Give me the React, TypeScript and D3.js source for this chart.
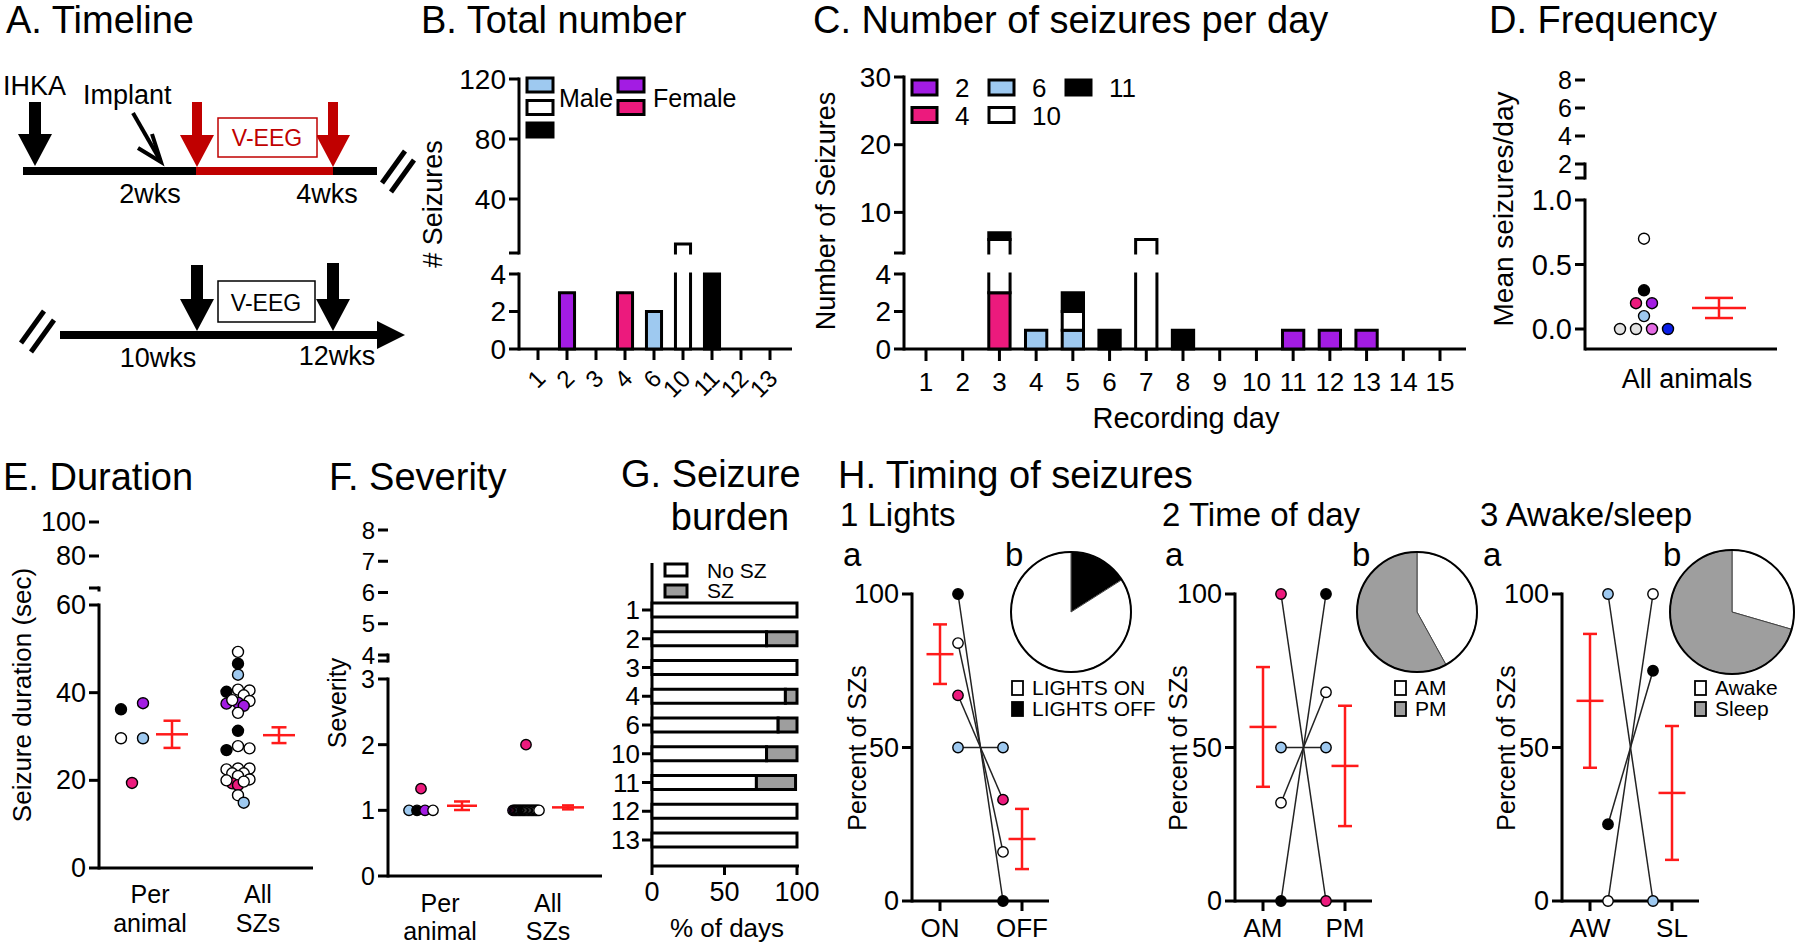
import * as d3 from "d3";

const FONT = "'Liberation Sans', Arial, Helvetica, sans-serif";
const PURPLE = "#a31ce3";
const PINK = "#ec1a7d";
const LBLUE = "#9ec9f0";
const ORCHID = "#e46ae4";
const BLUE = "#0a1ee8";
const LGRAY = "#e2e2e2";
const RED = "#ff1a1a";
const DKRED = "#c00000";
const SZGRAY = "#9e9e9e";
const W = "#ffffff";
const K = "#000000";
const TITLE = 38;

// ---------- B. total number per animal
const animalIds = ["1", "2", "3", "4", "6", "10", "11", "12", "13"];
const totalSeizures = [0, 3, 0, 3, 2, 10, 4, 0, 0];
const animalFill = [W, PURPLE, W, PINK, LBLUE, W, K, W, W];

// ---------- C. seizures per recording day, one list per animal
const recordingDays = ["1", "2", "3", "4", "5", "6", "7", "8", "9", "10", "11", "12", "13", "14", "15"];
const dayAnimal4 = [0, 0, 3, 0, 0, 0, 0, 0, 0, 0, 0, 0, 0, 0, 0];
const dayAnimal6 = [0, 0, 0, 1, 1, 0, 0, 0, 0, 0, 0, 0, 0, 0, 0];
const dayAnimal10 = [0, 0, 3, 0, 1, 0, 6, 0, 0, 0, 0, 0, 0, 0, 0];
const dayAnimal11 = [0, 0, 1, 0, 1, 1, 0, 1, 0, 0, 0, 0, 0, 0, 0];
const dayAnimal2 = [0, 0, 0, 0, 0, 0, 0, 0, 0, 0, 1, 1, 1, 0, 0];

// ---------- D. frequency
const freqValues = [0.7, 0.3, 0.2, 0.2, 0.1, 0, 0, 0, 0];
const freqColors = [W, K, PINK, PURPLE, LBLUE, LGRAY, LGRAY, ORCHID, BLUE];
const freqMean = 0.163;
const freqSem = 0.078;

// ---------- E. duration
const durPerAnimal = [36.2, 29.6, 19.4, 29.6, 37.6];
const durPerAnimalColors = [K, W, PINK, LBLUE, PURPLE];
const durAll = [49.3, 46.6, 44.1, 40.2, 40.7, 40.5, 39.4, 38.1, 37.7, 37.5, 37.0, 38.3, 35.4, 31.3, 26.9,
  27.8, 27.3, 22.7, 22.5, 22.7, 21.6, 21.6, 21.0, 19.3, 18.9, 20.0, 20.2, 19.7, 16.6, 14.9];
const durAllColors = [W, K, LBLUE, K, W, W, W, W, PURPLE, PURPLE, PURPLE, W, W, K, K,
  W, W, W, W, W, W, W, W, PINK, PINK, W, W, W, W, LBLUE];
const durStats = { perMean: 30.5, perSem: 3.1, allMean: 30.3, allSem: 1.8 };

// ---------- F. severity
const sevPerAnimal = [1, 1, 1, 1, 1.33];
const sevPerAnimalColors = [LBLUE, K, PURPLE, W, PINK];
const sevAll = [1, 1, 1, 1, 1, 1, 1, 1, 1, 1, 1, 1, 1, 1, 1, 1, 1, 1, 1, 1, 1, 2];
const sevAllColors = [PURPLE, PURPLE, PURPLE, PINK, PINK, LBLUE, LBLUE, K, K, K, K,
  W, W, W, W, W, W, W, W, W, W, PINK];
const sevStats = { perMean: 1.07, perSem: 0.065, allMean: 1.045, allSem: 0.03 };

// ---------- G. seizure burden (% of days)
const burdenNoSz = [100, 79, 100, 92, 87, 79, 72, 100, 100];
const burdenSz = [0, 21, 0, 8, 13, 21, 27, 0, 0];

// ---------- H. timing
const lightsOn = [100, 84, 67, 50];
const lightsOff = [0, 16, 33, 50];
const lightsColors = [K, W, PINK, LBLUE];
const lightsMean = [80.4, 20.2];
const lightsSem = [9.7, 9.8];
const lightsPie = [16, 84];

const amPct = [100, 0, 32, 50];
const pmPct = [0, 100, 68, 50];
const ampmColors = [PINK, K, W, LBLUE];
const ampmMean = [56.7, 44];
const ampmSem = [19.5, 19.6];
const ampmPie = [42, 58];

const awakePct = [100, 0, 25];
const sleepPct = [0, 100, 75];
const wakeColors = [LBLUE, W, K];
const wakeMean = [65.2, 35.2];
const wakeSem = [21.8, 21.8];
const wakePie = [29.5, 70.5];

type Lin = d3.ScaleLinear<number, number>;

// ---------------- helpers
function yAxisSeg(key: string, x: number, s: Lin, ticks: number[], fs: number,
  opt: { from?: number; to?: number; brk?: number; fmt?: (v: number) => string } = {}) {
  const [r0, r1] = s.range();
  const ya = opt.from ?? r0;
  const yb = opt.to ?? r1;
  return (
    <g key={key}>
      <line x1={x} x2={x} y1={ya} y2={yb} stroke={K} strokeWidth={3} strokeLinecap="square" />
      {ticks.map((t) => (
        <g key={t}>
          <line x1={x - 10} x2={x} y1={s(t)} y2={s(t)} stroke={K} strokeWidth={3} />
          <text x={x - 13} y={s(t)} textAnchor="end" dominantBaseline="central" fontSize={fs}>
            {opt.fmt ? opt.fmt(t) : String(t)}
          </text>
        </g>
      ))}
      {opt.brk !== undefined && (
        <line x1={x - 10} x2={x} y1={opt.brk} y2={opt.brk} stroke={K} strokeWidth={3} />
      )}
    </g>
  );
}

// vertical bar split across axis segments
function brokenBar(key: string, cx: number, w: number, v0: number, v1: number, fill: string, segs: Lin[]) {
  return (
    <g key={key}>
      {segs.map((s, i) => {
        const [lo, hi] = s.domain();
        const a = Math.max(v0, lo);
        const b = Math.min(v1, hi);
        if (b <= a) return null;
        const yb = s(a);
        const yt = s(b);
        const x0 = cx - w / 2;
        const x1 = cx + w / 2;
        let d = `M${x0},${yb}L${x0},${yt}M${x1},${yb}L${x1},${yt}`;
        if (v1 <= hi) d += `M${x0},${yt}L${x1},${yt}`;
        if (v0 >= lo) d += `M${x0},${yb}L${x1},${yb}`;
        return (
          <g key={i}>
            <rect x={x0} y={yt} width={w} height={yb - yt} fill={fill} />
            <path d={d} stroke={K} strokeWidth={3} fill="none" strokeLinecap="square" />
          </g>
        );
      })}
    </g>
  );
}

function errBar(key: string, cx: number, mean: number, sem: number, s: Lin, half: number, cap: number) {
  return (
    <g key={key} stroke={RED} strokeWidth={2.5}>
      <line x1={cx - half} x2={cx + half} y1={s(mean)} y2={s(mean)} />
      <line x1={cx} x2={cx} y1={s(mean - sem)} y2={s(mean + sem)} />
      <line x1={cx - cap} x2={cx + cap} y1={s(mean - sem)} y2={s(mean - sem)} />
      <line x1={cx - cap} x2={cx + cap} y1={s(mean + sem)} y2={s(mean + sem)} />
    </g>
  );
}

// points with (nearly) equal values placed in centred rows
function rowLayout(values: number[], ys: number[], cx: number, spacing: number, tol: number) {
  const order = d3.range(values.length).sort((a, b) => values[b] - values[a] || a - b);
  const xs: number[] = new Array(values.length);
  let row: number[] = [];
  const flush = () => {
    const r = [...row].sort((a, b) => a - b);
    r.forEach((idx, j) => (xs[idx] = cx + (j - (r.length - 1) / 2) * spacing));
    row = [];
  };
  for (const i of order) {
    if (row.length && Math.abs(ys[i] - ys[row[0]]) > tol) flush();
    row.push(i);
  }
  if (row.length) flush();
  return xs;
}

// compact beeswarm limited to a few columns
function swarm(ys: number[], values: number[], cx: number, minDist: number, step: number, maxK: number) {
  const order = d3.range(values.length).sort((a, b) => values[b] - values[a]);
  const placed: { x: number; y: number }[] = [];
  const xs: number[] = new Array(values.length);
  const offs = [0];
  for (let k = 1; k <= maxK; k++) offs.push(k * step, -k * step);
  for (const i of order) {
    const y = ys[i];
    let best = cx;
    let bestD = -1;
    for (const o of offs) {
      const x = cx + o;
      const dmin = placed.length ? d3.min(placed, (p) => Math.hypot(p.x - x, p.y - y)) as number : Infinity;
      if (dmin >= minDist) { best = x; bestD = Infinity; break; }
      if (dmin > bestD) { bestD = dmin; best = x; }
    }
    xs[i] = best;
    placed.push({ x: best, y });
  }
  return xs;
}

function dots(key: string, xs: number[], ys: number[], colors: string[], r: number) {
  return (
    <g key={key}>
      {xs.map((x, i) => (
        <circle key={i} cx={x} cy={ys[i]} r={r} fill={colors[i]} stroke={K} strokeWidth={1.4} />
      ))}
    </g>
  );
}

function BlockArrow({ x, y0, y1, fill, shaft = 12, head = 34, headH = 32 }:
  { x: number; y0: number; y1: number; fill: string; shaft?: number; head?: number; headH?: number }) {
  const pts = [
    [x - shaft / 2, y0], [x + shaft / 2, y0], [x + shaft / 2, y1 - headH], [x + head / 2, y1 - headH],
    [x, y1], [x - head / 2, y1 - headH], [x - shaft / 2, y1 - headH],
  ];
  return <polygon points={pts.map((p) => p.join(",")).join(" ")} fill={fill} />;
}

// ---------------- panels
function PanelA() {
  return (
    <g>
      <text x={6} y={33} fontSize={TITLE}>A. Timeline</text>
      <text x={3} y={95} fontSize={27}>IHKA</text>
      <text x={83} y={104} fontSize={27}>Implant</text>
      <rect x={23} y={167} width={173} height={8} fill={K} />
      <rect x={196} y={167} width={137} height={8} fill={DKRED} />
      <rect x={333} y={167} width={44} height={8} fill={K} />
      <BlockArrow x={35} y0={102} y1={166} fill={K} />
      <BlockArrow x={197} y0={102} y1={167} fill={DKRED} shaft={10} />
      <BlockArrow x={333} y0={102} y1={167} fill={DKRED} shaft={10} />
      <line x1={133} y1={113} x2={160} y2={160} stroke={K} strokeWidth={4} />
      <polyline points="152,134 161,162 138,148" fill="none" stroke={K} strokeWidth={4} />
      <rect x={218} y={118} width={99} height={39} fill={W} stroke={DKRED} strokeWidth={1.5} />
      <text x={267} y={146} textAnchor="middle" fontSize={23} fill={DKRED}>V-EEG</text>
      <text x={150} y={203} textAnchor="middle" fontSize={27}>2wks</text>
      <text x={327} y={203} textAnchor="middle" fontSize={27}>4wks</text>
      <line x1={382} y1={183} x2={405} y2={151} stroke={K} strokeWidth={5} />
      <line x1={391} y1={192} x2={414} y2={160} stroke={K} strokeWidth={5} />

      <line x1={21} y1={343} x2={44} y2={311} stroke={K} strokeWidth={5} />
      <line x1={31} y1={352} x2={54} y2={320} stroke={K} strokeWidth={5} />
      <rect x={60} y={331} width={320} height={8} fill={K} />
      <polygon points="377,321 405,335 377,349" fill={K} />
      <BlockArrow x={197} y0={265} y1={331} fill={K} />
      <BlockArrow x={333} y0={263} y1={331} fill={K} />
      <rect x={218} y={281} width={97} height={41} fill={W} stroke={K} strokeWidth={1.5} />
      <text x={266} y={311} textAnchor="middle" fontSize={23}>V-EEG</text>
      <text x={158} y={367} textAnchor="middle" fontSize={27}>10wks</text>
      <text x={337} y={365} textAnchor="middle" fontSize={27}>12wks</text>
    </g>
  );
}

function PanelB() {
  const x = d3.scalePoint<string>().domain(animalIds).range([538, 770]);
  const yLow = d3.scaleLinear().domain([0, 4]).range([349, 274]);
  const yHigh = d3.scaleLinear().domain([4, 120]).range([253, 79]);
  const bw = x.step() * 0.52;
  const legMale = [LBLUE, W, K];
  const legFemale = [PURPLE, PINK];
  return (
    <g>
      <text x={421} y={33} fontSize={TITLE}>B. Total number</text>
      <text transform="translate(433,204) rotate(-90)" textAnchor="middle" dominantBaseline="central" fontSize={27}># Seizures</text>
      {yAxisSeg("hi", 519, yHigh, [40, 80, 120], 28, { brk: 253 })}
      {yAxisSeg("lo", 519, yLow, [0, 2, 4], 28)}
      <line x1={519} x2={792} y1={349} y2={349} stroke={K} strokeWidth={3} />
      {animalIds.map((a) => (
        <g key={a}>
          <line x1={x(a)} x2={x(a)} y1={349} y2={360} stroke={K} strokeWidth={3} />
          <text transform={`translate(${(x(a) as number) + 9},380) rotate(-45)`} textAnchor="end" fontSize={24}>{a}</text>
        </g>
      ))}
      {animalIds.map((a, i) =>
        totalSeizures[i] > 0 ? brokenBar(a, x(a) as number, bw, 0, totalSeizures[i], animalFill[i], [yLow, yHigh]) : null
      )}
      {legMale.map((c, i) => (
        <rect key={"m" + i} x={527} y={78 + i * 22.5} width={26} height={14} fill={c} stroke={K} strokeWidth={3} />
      ))}
      {legFemale.map((c, i) => (
        <rect key={"f" + i} x={618} y={78 + i * 22.5} width={26} height={14} fill={c} stroke={K} strokeWidth={3} />
      ))}
      <text x={559} y={107} fontSize={25}>Male</text>
      <text x={653} y={107} fontSize={25}>Female</text>
    </g>
  );
}

function PanelC() {
  const x = d3.scalePoint<string>().domain(recordingDays).range([926, 1440]);
  const yLow = d3.scaleLinear().domain([0, 4]).range([349, 274]);
  const yHigh = d3.scaleLinear().domain([4, 30]).range([253, 77]);
  const rows = recordingDays.map((d, i) => ({
    day: d, a4: dayAnimal4[i], a6: dayAnimal6[i], a10: dayAnimal10[i], a11: dayAnimal11[i], a2: dayAnimal2[i],
  }));
  const keys = ["a4", "a6", "a10", "a11", "a2"];
  const fills: Record<string, string> = { a4: PINK, a6: LBLUE, a10: W, a11: K, a2: PURPLE };
  const stack = d3.stack<any>().keys(keys)(rows);
  const bw = x.step() * 0.58;
  const legend = [
    { c: PURPLE, t: "2", col: 0, row: 0 }, { c: PINK, t: "4", col: 0, row: 1 },
    { c: LBLUE, t: "6", col: 1, row: 0 }, { c: W, t: "10", col: 1, row: 1 },
    { c: K, t: "11", col: 2, row: 0 },
  ];
  return (
    <g>
      <text x={813} y={33} fontSize={TITLE}>C. Number of seizures per day</text>
      <text transform="translate(826,211) rotate(-90)" textAnchor="middle" dominantBaseline="central" fontSize={27}>Number of Seizures</text>
      {yAxisSeg("hi", 904, yHigh, [10, 20, 30], 28, { brk: 253 })}
      {yAxisSeg("lo", 904, yLow, [0, 2, 4], 28)}
      <line x1={904} x2={1466} y1={349} y2={349} stroke={K} strokeWidth={3} />
      {recordingDays.map((d) => (
        <g key={d}>
          <line x1={x(d)} x2={x(d)} y1={349} y2={361} stroke={K} strokeWidth={3} />
          <text x={x(d)} y={391} textAnchor="middle" fontSize={26}>{d}</text>
        </g>
      ))}
      {stack.map((layer) =>
        layer.map((p, i) =>
          p[1] > p[0] ? brokenBar(layer.key + i, x(recordingDays[i]) as number, bw, p[0], p[1], fills[layer.key], [yLow, yHigh]) : null
        )
      )}
      <text x={1186} y={428} textAnchor="middle" fontSize={29}>Recording day</text>
      {legend.map((l) => (
        <g key={l.t}>
          <rect x={912 + l.col * 77} y={80 + l.row * 27.5} width={25} height={15} fill={l.c} stroke={K} strokeWidth={3} />
          <text x={955 + l.col * 77} y={97 + l.row * 27.5} fontSize={26}>{l.t}</text>
        </g>
      ))}
    </g>
  );
}

function PanelD() {
  const yLow = d3.scaleLinear().domain([0, 1]).range([329, 200]);
  const yHigh = d3.scaleLinear().domain([2, 8]).range([164, 80]);
  const ys = freqValues.map((v) => yLow(v));
  const xs = rowLayout(freqValues, ys, 1644, 16, 2);
  return (
    <g>
      <text x={1489} y={33} fontSize={TITLE}>D. Frequency</text>
      <text transform="translate(1503,209) rotate(-90)" textAnchor="middle" dominantBaseline="central" fontSize={28}>Mean seizures/day</text>
      {yAxisSeg("hi", 1585, yHigh, [2, 4, 6, 8], 25, { to: 178, brk: 178 })}
      {yAxisSeg("lo", 1585, yLow, [0, 0.5, 1], 29, { from: 349, fmt: d3.format(".1f") })}
      <line x1={1585} x2={1777} y1={349} y2={349} stroke={K} strokeWidth={3} />
      {dots("pts", xs, ys, freqColors, 5.5)}
      {errBar("err", 1719, freqMean, freqSem, yLow, 27, 14)}
      <text x={1687} y={388} textAnchor="middle" fontSize={27}>All animals</text>
    </g>
  );
}

function PanelE() {
  const yLow = d3.scaleLinear().domain([0, 60]).range([868, 605]);
  const yHigh = d3.scaleLinear().domain([60, 100]).range([590, 522]);
  const ysP = durPerAnimal.map((v) => yLow(v));
  const xsP = rowLayout(durPerAnimal, ysP, 132, 22, 8);
  const ysA = durAll.map((v) => yLow(v));
  const xsA = swarm(ysA, durAll, 238, 8, 5.75, 2);
  return (
    <g>
      <text x={3} y={490} fontSize={TITLE}>E. Duration</text>
      <text transform="translate(22,695) rotate(-90)" textAnchor="middle" dominantBaseline="central" fontSize={26}>Seizure duration (sec)</text>
      {yAxisSeg("hi", 99, yHigh, [80, 100], 27, { to: 588, brk: 588 })}
      {yAxisSeg("lo", 99, yLow, [0, 20, 40, 60], 27)}
      <line x1={99} x2={313} y1={868} y2={868} stroke={K} strokeWidth={3} />
      {dots("p", xsP, ysP, durPerAnimalColors, 5.5)}
      {dots("a", xsA, ysA, durAllColors, 5.5)}
      {errBar("ep", 172, durStats.perMean, durStats.perSem, yLow, 16, 8.5)}
      {errBar("ea", 279, durStats.allMean, durStats.allSem, yLow, 16, 7.5)}
      <text x={150} y={903} textAnchor="middle" fontSize={25}>Per</text>
      <text x={150} y={932} textAnchor="middle" fontSize={25}>animal</text>
      <text x={258} y={903} textAnchor="middle" fontSize={25}>All</text>
      <text x={258} y={932} textAnchor="middle" fontSize={25}>SZs</text>
    </g>
  );
}

function PanelF() {
  const yLow = d3.scaleLinear().domain([0, 3]).range([876, 679]);
  const yHigh = d3.scaleLinear().domain([4, 8]).range([655, 530]);
  const ysP = sevPerAnimal.map((v) => yLow(v));
  const xsP = rowLayout(sevPerAnimal, ysP, 421, 8, 2);
  const ysA = sevAll.map((v) => yLow(v));
  const xsA = rowLayout(sevAll, ysA, 526, 1.3, 2);
  return (
    <g>
      <text x={329} y={490} fontSize={TITLE}>F. Severity</text>
      <text transform="translate(337,703) rotate(-90)" textAnchor="middle" dominantBaseline="central" fontSize={25}>Severity</text>
      {yAxisSeg("hi", 388, yHigh, [4, 5, 6, 7, 8], 24, { to: 661, brk: 661 })}
      {yAxisSeg("lo", 388, yLow, [0, 1, 2, 3], 25)}
      <line x1={388} x2={602} y1={876} y2={876} stroke={K} strokeWidth={3} />
      {dots("p", xsP, ysP, sevPerAnimalColors, 5.2)}
      {dots("a", xsA, ysA, sevAllColors, 5.2)}
      {errBar("fp", 462, sevStats.perMean, sevStats.perSem, yLow, 15, 8)}
      {errBar("fa", 568, sevStats.allMean, sevStats.allSem, yLow, 16, 6)}
      <text x={440} y={912} textAnchor="middle" fontSize={25}>Per</text>
      <text x={440} y={940} textAnchor="middle" fontSize={25}>animal</text>
      <text x={548} y={912} textAnchor="middle" fontSize={25}>All</text>
      <text x={548} y={940} textAnchor="middle" fontSize={25}>SZs</text>
    </g>
  );
}

function PanelG() {
  const y = d3.scalePoint<string>().domain(animalIds).range([610, 840]);
  const x = d3.scaleLinear().domain([0, 100]).range([652, 797]);
  const bh = 14;
  return (
    <g>
      <text x={621} y={487} fontSize={TITLE}>G. Seizure</text>
      <text x={730} y={530} textAnchor="middle" fontSize={TITLE}>burden</text>
      <line x1={652} x2={652} y1={563} y2={866} stroke={K} strokeWidth={3} />
      <line x1={652} x2={799} y1={866} y2={866} stroke={K} strokeWidth={3} />
      {[0, 50, 100].map((t) => (
        <g key={t}>
          <line x1={x(t)} x2={x(t)} y1={866} y2={875} stroke={K} strokeWidth={3} />
          <text x={x(t)} y={901} textAnchor="middle" fontSize={27}>{t}</text>
        </g>
      ))}
      {animalIds.map((a, i) => {
        const yc = y(a) as number;
        return (
          <g key={a}>
            <line x1={642} x2={652} y1={yc} y2={yc} stroke={K} strokeWidth={3} />
            <text x={640} y={yc} textAnchor="end" dominantBaseline="central" fontSize={26}>{a}</text>
            <rect x={x(0)} y={yc - bh / 2} width={x(burdenNoSz[i]) - x(0)} height={bh} fill={W} stroke={K} strokeWidth={3} />
            {burdenSz[i] > 0 && (
              <rect x={x(burdenNoSz[i])} y={yc - bh / 2} width={x(burdenNoSz[i] + burdenSz[i]) - x(burdenNoSz[i])} height={bh} fill={SZGRAY} stroke={K} strokeWidth={3} />
            )}
          </g>
        );
      })}
      <rect x={665} y={564} width={22} height={12} fill={W} stroke={K} strokeWidth={3} />
      <rect x={665} y={585} width={22} height={12} fill={SZGRAY} stroke={K} strokeWidth={3} />
      <text x={707} y={578} fontSize={21}>No SZ</text>
      <text x={707} y={598} fontSize={21}>SZ</text>
      <text x={727} y={937} textAnchor="middle" fontSize={26}>% of days</text>
    </g>
  );
}

function TimingPanel({ x0, title, cats, left, right, colors, means, sems, pie, pieFills, pieCx, pieR, legX, legLabels, legFills, aX, bX, ylabX }:
  {
    x0: number; title: string; cats: string[]; left: number[]; right: number[]; colors: string[];
    means: number[]; sems: number[]; pie: number[]; pieFills: string[]; pieCx: number; pieR: number;
    legX: number; legLabels: string[]; legFills: string[]; aX: number; bX: number; ylabX: number;
  }) {
  const y = d3.scaleLinear().domain([0, 100]).range([901, 594]);
  const x = d3.scalePoint<string>().domain(cats).range([x0 + 28, x0 + 110]);
  const xl = (x(cats[0]) as number) + 18;
  const xr = (x(cats[1]) as number) - 19;
  const arcs = d3.pie<number>().sort(null)(pie);
  const arc = d3.arc<d3.PieArcDatum<number>>().innerRadius(0).outerRadius(pieR);
  return (
    <g>
      <text x={aX - 3} y={526} fontSize={33}>{title}</text>
      <text x={aX} y={566} fontSize={33}>a</text>
      <text x={bX} y={566} fontSize={33}>b</text>
      <text transform={`translate(${ylabX},748) rotate(-90)`} textAnchor="middle" dominantBaseline="central" fontSize={25}>Percent of SZs</text>
      {yAxisSeg("y", x0, y, [0, 50, 100], 27)}
      <line x1={x0} x2={x0 + 137} y1={901} y2={901} stroke={K} strokeWidth={3} />
      {cats.map((c) => (
        <g key={c}>
          <line x1={x(c)} x2={x(c)} y1={901} y2={911} stroke={K} strokeWidth={3} />
          <text x={x(c)} y={937} textAnchor="middle" fontSize={26}>{c}</text>
        </g>
      ))}
      {left.map((v, i) => (
        <line key={i} x1={xl} x2={xr} y1={y(v)} y2={y(right[i])} stroke="#222" strokeWidth={1.5} />
      ))}
      {dots("l", left.map(() => xl), left.map((v) => y(v)), colors, 5.2)}
      {dots("r", right.map(() => xr), right.map((v) => y(v)), colors, 5.2)}
      {errBar("e0", x(cats[0]) as number, means[0], sems[0], y, 13.5, 7)}
      {errBar("e1", x(cats[1]) as number, means[1], sems[1], y, 13.5, 7)}
      <g transform={`translate(${pieCx},612)`}>
        {arcs.map((a, i) => (
          <path key={i} d={arc(a) as string} fill={pieFills[i]} stroke="#444" strokeWidth={1} />
        ))}
        <circle r={pieR} fill="none" stroke={K} strokeWidth={2} />
      </g>
      {legLabels.map((l, i) => (
        <g key={l}>
          <rect x={legX} y={681 + i * 21} width={11} height={14} fill={legFills[i]} stroke={K} strokeWidth={1.8} />
          <text x={legX + 20} y={695 + i * 21} fontSize={21}>{l}</text>
        </g>
      ))}
    </g>
  );
}

export default function App() {
  return (
    <svg width={1800} height={949} style={{ position: "absolute", left: 0, top: 0 }} fontFamily={FONT}>
      <rect width={1800} height={949} fill={W} />
      <PanelA />
      <PanelB />
      <PanelC />
      <PanelD />
      <PanelE />
      <PanelF />
      <PanelG />
      <text x={838} y={488} fontSize={TITLE}>H. Timing of seizures</text>
      <TimingPanel x0={912} title="1 Lights" cats={["ON", "OFF"]} left={lightsOn} right={lightsOff} colors={lightsColors}
        means={lightsMean} sems={lightsSem} pie={lightsPie} pieFills={[K, W]} pieCx={1071} pieR={60}
        legX={1012} legLabels={["LIGHTS ON", "LIGHTS OFF"]} legFills={[W, K]} aX={843} bX={1005} ylabX={857} />
      <TimingPanel x0={1235} title="2 Time of day" cats={["AM", "PM"]} left={amPct} right={pmPct} colors={ampmColors}
        means={ampmMean} sems={ampmSem} pie={ampmPie} pieFills={[W, SZGRAY]} pieCx={1417} pieR={60}
        legX={1395} legLabels={["AM", "PM"]} legFills={[W, SZGRAY]} aX={1165} bX={1352} ylabX={1178} />
      <TimingPanel x0={1562} title="3 Awake/sleep" cats={["AW", "SL"]} left={awakePct} right={sleepPct} colors={wakeColors}
        means={wakeMean} sems={wakeSem} pie={wakePie} pieFills={[W, SZGRAY]} pieCx={1732} pieR={62}
        legX={1695} legLabels={["Awake", "Sleep"]} legFills={[W, SZGRAY]} aX={1483} bX={1663} ylabX={1506} />
    </svg>
  );
}
